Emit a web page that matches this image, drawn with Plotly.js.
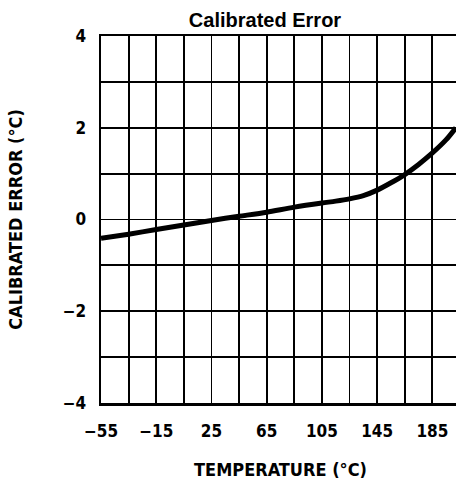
<!DOCTYPE html>
<html><head><meta charset="utf-8">
<script src="https://cdn.plot.ly/plotly-3.0.1.min.js"></script>
<style>html,body{margin:0;padding:0;overflow:hidden;background:#fff;width:456px;height:481px}</style>
</head><body><div id="chart"></div>
<script>
const temperature = [-55, -35, -15, 5, 25, 45, 65, 85, 105, 115, 125, 135, 145, 155, 165, 175, 185, 195, 202];
const calibratedError = [-0.41, -0.32, -0.22, -0.12, -0.02, 0.07, 0.16, 0.27, 0.36, 0.40, 0.45, 0.52, 0.64, 0.8, 0.98, 1.2, 1.45, 1.74, 2.0];
const xTickVals = [-55, -15, 25, 65, 105, 145, 185];
const yTickVals = [-4, -2, 0, 2, 4];
const condensed = '"Liberation Sans Narrow", "DejaVu Sans Condensed", Arial, sans-serif';

Plotly.newPlot('chart', [{
  x: temperature, y: calibratedError, type: 'scatter', mode: 'lines',
  line: {color: '#000', width: 5, shape: 'spline', smoothing: 0.8},
  hoverinfo: 'skip'
}], {
  width: 470, height: 481,
  margin: {l: 101, r: 10, t: 36, b: 78},
  paper_bgcolor: '#fff', plot_bgcolor: '#fff',
  showlegend: false,
  title: {text: '<b>Calibrated Error</b>', x: 265/470, xref: 'container', xanchor: 'center', y: 1 - 20/481, yanchor: 'middle',
    font: {family: 'Liberation Sans, Arial, sans-serif', size: 20, color: '#000'}},
  xaxis: {
    range: [-55, 205], tickmode: 'array', tickvals: xTickVals, ticktext: xTickVals.map(v => v < 0 ? '\u2212' + Math.abs(v) : String(v)),
    showgrid: true, gridcolor: '#000', gridwidth: 1.8, zeroline: false,
    showline: true, linecolor: '#000', linewidth: 2.5, mirror: true,
    ticks: '', ticklabelstandoff: 11,
    minor: {dtick: 20, tick0: -55, showgrid: true, gridcolor: '#000', gridwidth: 1.8},
    tickfont: {family: condensed, size: 17, color: '#000', weight: 'bold'},
    title: {text: '<b>TEMPERATURE (°C)</b>', standoff: 24, font: {family: condensed, size: 18, color: '#000'}}
  },
  yaxis: {
    range: [-4, 4], tickmode: 'array', tickvals: yTickVals, ticktext: yTickVals.map(v => v < 0 ? '\u2212' + Math.abs(v) : String(v)),
    showgrid: true, gridcolor: '#000', gridwidth: 1.8, zeroline: false,
    showline: true, linecolor: '#000', linewidth: 2.5, mirror: true,
    ticks: '', ticklabelstandoff: 9,
    minor: {dtick: 1, tick0: 0, showgrid: true, gridcolor: '#000', gridwidth: 1.8},
    tickfont: {family: condensed, size: 17, color: '#000', weight: 'bold'},
    title: {text: '<b>CALIBRATED ERROR (°C)</b>', standoff: 36, font: {family: condensed, size: 18, color: '#000'}}
  }
}, {displayModeBar: false, staticPlot: true});
</script></body></html>
